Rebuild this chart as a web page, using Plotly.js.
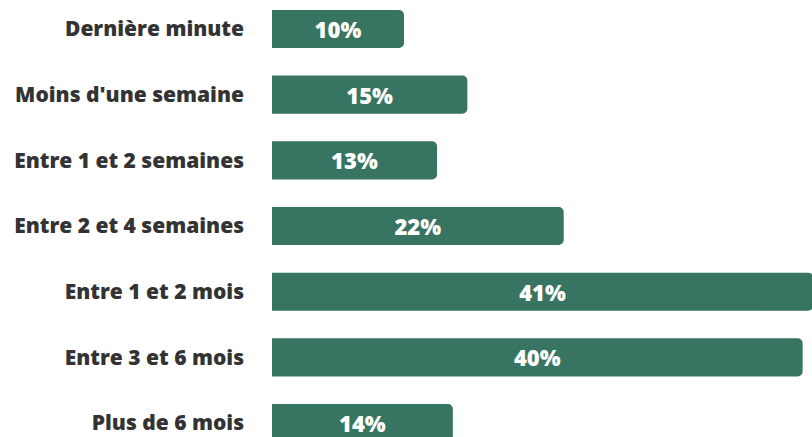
<!DOCTYPE html>
<html>
<head>
<meta charset="utf-8">
<script src="https://cdn.plot.ly/plotly-3.0.1.min.js"></script>
<style>
html,body{margin:0;padding:0;background:#fff;}
#chart{width:812px;height:437px;}
</style>
</head>
<body>
<div id="chart"></div>
<script>
const categories = ["Dernière minute", "Moins d'une semaine", "Entre 1 et 2 semaines", "Entre 2 et 4 semaines", "Entre 1 et 2 mois", "Entre 3 et 6 mois", "Plus de 6 mois"];
const values = [10.0, 14.8, 12.5, 22.1, 41.0, 40.2, 13.7];
const labels = ["10%", "15%", "13%", "22%", "41%", "40%", "14%"];

const barColor = "#377562";
const fontFamily = "'Open Sans', Lato, sans-serif";

const trace = {
  type: "bar",
  orientation: "h",
  y: categories,
  x: values,
  text: labels,
  textposition: "inside",
  insidetextanchor: "middle",
  textfont: {family: fontFamily, size: 22, color: "#ffffff", weight: 800},
  marker: {color: barColor, line: {width: 0}},
  hoverinfo: "none",
  cliponaxis: true
};

const layout = {
  width: 812,
  height: 437,
  margin: {l: 272, r: 0, t: 0, b: 0, pad: 0},
  paper_bgcolor: "#ffffff",
  plot_bgcolor: "#ffffff",
  showlegend: false,
  bargap: 0.42,
  barcornerradius: 5,
  xaxis: {range: [0, 40.91], visible: false, fixedrange: true},
  yaxis: {
    type: "category",
    categoryorder: "array",
    categoryarray: categories,
    range: [6.213, -0.4416],
    showgrid: false, zeroline: false, showline: false,
    ticks: "",
    ticklabelstandoff: 27,
    tickfont: {family: fontFamily, size: 21, color: "#333333", weight: 800},
    fixedrange: true
  }
};

Plotly.newPlot("chart", [trace], layout, {displayModeBar: false, staticPlot: true});
</script>
</body>
</html>
